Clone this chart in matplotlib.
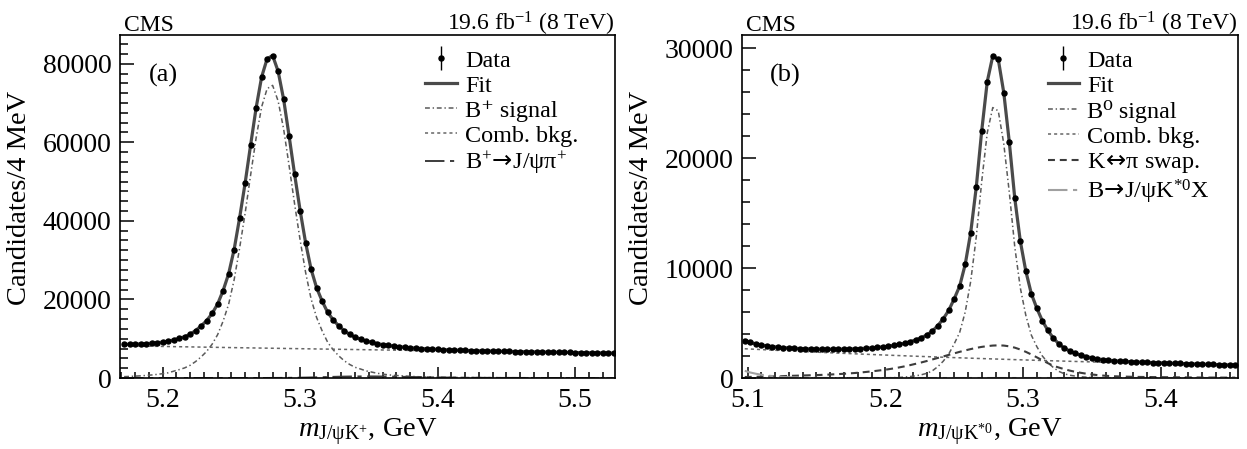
#!/usr/bin/env python3
"""Ajuste de masa invariante B+ -> J/psi K+ (a) y B0 -> J/psi K*0 (b), estilo CMS."""
import matplotlib

matplotlib.use("Agg")
import matplotlib.pyplot as plt
import numpy as np
from matplotlib.ticker import MultipleLocator

plt.rcParams["font.family"] = ["Liberation Serif", "DejaVu Serif", "DejaVu Sans"]
plt.rcParams["mathtext.fontset"] = "custom"
plt.rcParams["mathtext.rm"] = "Liberation Serif"
plt.rcParams["mathtext.it"] = "Liberation Serif:italic"
plt.rcParams["mathtext.sf"] = "DejaVu Sans"  # flechas largas como en ROOT
plt.rcParams["lines.scale_dashes"] = False

# --------------------------------------------------------------------------- #
# Datos, bins de 4 MeV.
# --------------------------------------------------------------------------- #
BIN_W = 0.004
FIRST_A = 5.172
FIRST_B = 5.098
N_BINS = 90

data_a = [
    8550, 8600, 8610, 8700, 8740, 8870, 8950, 9150, 9300, 9700,
    10100, 10480, 11180, 12050, 13250, 14580, 16450, 18800, 22250, 26500,
    32700, 40800, 49600, 59300, 68800, 76600, 81300, 82000, 78100, 70900,
    61500, 51800, 42600, 34400, 27700, 22950, 19600, 16700, 14800, 13300,
    12050, 11100, 10350, 9900, 9400, 9100, 8750, 8500, 8280, 8100,
    7980, 7850, 7720, 7600, 7500, 7430, 7350, 7280, 7200, 7150,
    7100, 7060, 7020, 6980, 6940, 6910, 6880, 6840, 6820, 6790,
    6760, 6730, 6710, 6690, 6660, 6640, 6610, 6590, 6570, 6540,
    6520, 6500, 6480, 6460, 6430, 6410, 6390, 6370, 6350, 6330,
]
sig_a = [
    345, 400, 475, 550, 650, 770, 920, 1100, 1320, 1730,
    2130, 2570, 3230, 4190, 5370, 6760, 8600, 11030,
    14480, 18760, 24980, 33070, 41930, 51670, 61120, 69000, 73650, 74480,
    70500, 63380, 54000, 44260, 35100, 26850, 20100, 15380, 12000,
    9110, 7200, 5660, 4410, 3450, 2720, 2280, 1800, 1510,
    1210, 990, 810, 680, 590, 500, 430, 350, 300, 265, 235, 205, 175, 150,
    140, 130, 120, 110, 100, 95, 90, 85, 80, 75,
    72, 70, 68, 65, 62, 60, 58, 55, 52, 50, 48, 46, 44, 42, 40, 38, 36, 34, 32, 30,
]
comb_a = [
    8200, 8176, 8152, 8128, 8104, 8080, 8057, 8033, 8009, 7985,
    7961, 7938, 7914, 7891, 7868, 7845, 7821, 7798, 7775, 7751,
    7728, 7706, 7683, 7661, 7638, 7616, 7593, 7571, 7548, 7526,
    7503, 7481, 7459, 7437, 7415, 7394, 7372, 7350, 7328, 7306,
    7284, 7263, 7242, 7220, 7199, 7178, 7156, 7135, 7114, 7092,
    7071, 7050, 7030, 7009, 6988, 6968, 6947, 6926, 6905, 6885,
    6864, 6844, 6824, 6804, 6784, 6764, 6744, 6724, 6704, 6684,
    6664, 6645, 6625, 6606, 6586, 6567, 6547, 6528, 6508, 6489,
    6469, 6450, 6431, 6413, 6394, 6375, 6356, 6338, 6319, 6300,
]
pi_a = [0] * 26 + [
    10, 15, 22, 32, 45, 62, 85, 110, 140, 175,
    210, 250, 290, 325, 355, 380, 395, 405, 410, 405,
    395, 380, 360, 340, 315, 290, 265, 240, 215, 190,
    168, 148, 130, 114, 100, 88, 77, 67, 58, 50,
    43, 37, 32, 27, 23,
    20, 17, 14, 12, 10, 8, 7, 6, 5, 4, 3, 3, 2, 2, 1, 1, 1, 0, 0,
]

data_b = [
    3400, 3230, 3120, 3000, 2930, 2860, 2800, 2770, 2730, 2700,
    2680, 2660, 2640, 2630, 2620, 2620, 2620, 2620, 2630, 2640,
    2660, 2680, 2710, 2740, 2790, 2830, 2890, 2960, 3050, 3170,
    3300, 3470, 3660, 3900, 4250, 4750, 5370, 6140, 7190, 8370,
    10330, 13230, 17330, 22500, 26950, 29280, 28990, 25950, 21470, 16330,
    12450, 9720, 7660, 6340, 5200, 4330, 3620, 3100, 2710, 2440,
    2240, 2070, 1940, 1830, 1750, 1680, 1620, 1580, 1540, 1510,
    1480, 1460, 1440, 1420, 1400, 1390, 1370, 1350, 1330, 1320,
    1300, 1280, 1270, 1260, 1240, 1230, 1210, 1200, 1190, 1170,
]
sig_b = [0] * 23 + [
    5, 8, 14, 22, 33, 50, 85, 135, 195, 290,
    420, 640, 1020, 1520, 2170, 3100, 4150, 6000, 8800, 12800,
    17900, 22300, 24600, 24300, 21300, 16900, 11900, 8200, 5700, 3900,
    2850, 2000, 1400, 950, 600, 380, 250, 170, 110, 75,
    50, 32, 20, 12, 7,
] + [0] * 22
comb_b = [
    2660, 2635, 2610, 2585, 2561, 2536, 2512, 2489, 2465, 2442,
    2419, 2396, 2373, 2351, 2329, 2307, 2285, 2263, 2242, 2221,
    2200, 2179, 2158, 2138, 2118, 2098, 2078, 2058, 2039, 2020,
    2000, 1981, 1963, 1944, 1926, 1908, 1890, 1872, 1854, 1837,
    1819, 1802, 1785, 1768, 1752, 1735, 1719, 1703, 1686, 1670,
    1655, 1639, 1624, 1608, 1593, 1578, 1563, 1548, 1534, 1519,
    1505, 1491, 1477, 1463, 1449, 1435, 1422, 1408, 1395, 1382,
    1369, 1356, 1343, 1330, 1318, 1305, 1293, 1281, 1269, 1257,
    1245, 1233, 1222, 1210, 1199, 1187, 1176, 1165, 1154, 1143,
]
swap_b = [
    90, 100, 110, 120, 135, 150, 160, 175, 190, 205,
    220, 235, 250, 265, 285, 305, 330, 355, 385, 420,
    455, 500, 550, 600, 660, 720, 790, 870, 960, 1060,
    1170, 1290, 1410, 1540, 1680, 1820, 1960, 2100, 2240, 2380,
    2510, 2630, 2740, 2830, 2900, 2950, 2970, 2950, 2880, 2760,
    2590, 2380, 2140, 1880, 1610, 1350, 1110, 950, 800, 670,
    560, 470, 390, 320, 265, 220, 185, 160, 140, 125,
    112, 100, 95, 90, 85, 80, 75, 70, 65, 60,
    55, 50, 48, 45, 42, 40, 38, 35, 32, 30,
]
jx_b = [650, 500, 390, 300, 230, 175, 135, 100, 75, 55,
        40, 30, 22, 15, 10, 6, 4, 2] + [0] * 72

# --------------------------------------------------------------------------- #
# Estilos de las componentes (ROOT-like, grises).
# --------------------------------------------------------------------------- #
FIT_STYLE = dict(color="#4a4a4a", lw=2.3)
SIG_STYLE = dict(color="#5a5a5a", lw=1.1, dashes=(3.5, 2, 1, 2))
COMB_STYLE = dict(color="#666666", lw=1.1, dashes=(2.2, 2.2))
PI_STYLE = dict(color="#3c3c3c", lw=1.4, dashes=(14, 4, 3, 4))
SWAP_STYLE = dict(color="#3c3c3c", lw=1.5, dashes=(5, 3.5))
JX_STYLE = dict(color="#a0a0a0", lw=1.5, dashes=(14, 4, 3, 4))


def draw_panel(ax, first, data, parts, xlim, ylim, ymajor, yminor, xlabel, tag):
    mass = first + BIN_W * np.arange(N_BINS)
    fit = np.sum([np.asarray(v, float) for _, v, _ in parts], axis=0)
    handles = []
    for label, vals, style in parts:
        (h,) = ax.plot(mass, vals, label=label, zorder=2, **style)
        handles.append(h)
    (hfit,) = ax.plot(mass, fit, label="Fit", zorder=3, **FIT_STYLE)
    data = np.asarray(data, float)
    hdata = ax.errorbar(mass, data, yerr=np.sqrt(data), fmt="o", ms=3.6, color="k",
                        elinewidth=1.0, capsize=0, zorder=5, label="Data")
    ax.set_xlim(*xlim)
    ax.set_ylim(*ylim)
    ax.xaxis.set_major_locator(MultipleLocator(0.1))
    ax.xaxis.set_minor_locator(MultipleLocator(0.01))
    ax.yaxis.set_major_locator(MultipleLocator(ymajor))
    ax.yaxis.set_minor_locator(MultipleLocator(yminor))
    ax.tick_params(which="both", direction="in", top=False, right=False, width=1.1)
    ax.tick_params(axis="y", which="major", length=10, pad=6, labelsize=20)
    ax.tick_params(axis="y", which="minor", length=5.5)
    ax.tick_params(axis="x", which="major", length=8, pad=7, labelsize=20)
    ax.tick_params(axis="x", which="minor", length=4.5)
    for sp in ax.spines.values():
        sp.set_linewidth(1.2)
    ax.set_ylabel("Candidates/4 MeV", fontsize=20.5)
    ax.yaxis.set_label_coords(-0.178, 0.525)
    ax.set_xlabel(xlabel, fontsize=20.5)
    ax.xaxis.set_label_coords(0.5, -0.112)
    ax.text(0.008, 1.012, "CMS", transform=ax.transAxes, fontsize=17,
            ha="left", va="baseline")
    ax.text(1.0, 1.012, r"19.6 fb$^{-1}$ (8 TeV)", transform=ax.transAxes,
            fontsize=17, ha="right", va="baseline")
    ax.text(0.088, 0.882, tag, transform=ax.transAxes, fontsize=19,
            ha="center", va="center")
    ax.legend([hdata, hfit] + handles, ["Data", "Fit"] + [p[0] for p in parts],
              loc="upper left", bbox_to_anchor=(0.616, 0.957), frameon=False,
              fontsize=17.4, handlelength=1.32, handletextpad=0.33,
              labelspacing=0.13, borderpad=0, borderaxespad=0)


fig = plt.figure(figsize=(12.47, 4.49), dpi=100)
ax_a = fig.add_axes([120 / 1247, 1 - 378 / 449, 495 / 1247, 343 / 449])
ax_b = fig.add_axes([742 / 1247, 1 - 378 / 449, 496 / 1247, 343 / 449])

draw_panel(
    ax_a, FIRST_A, data_a,
    [("B⁺ signal", sig_a, SIG_STYLE),
     ("Comb. bkg.", comb_a, COMB_STYLE),
     (r"B$^{+}\!\mathsf{\rightarrow}\!$J/ψπ$^{+}$", pi_a, PI_STYLE)],
    (5.169, 5.529), (0, 87300), 20000, 2500,
    r"$m_{\mathrm{J/ψK^{+}}}$, GeV", "(a)",
)
draw_panel(
    ax_b, FIRST_B, data_b,
    [("B⁰ signal", sig_b, SIG_STYLE),
     ("Comb. bkg.", comb_b, COMB_STYLE),
     (r"K$\!\mathsf{\leftrightarrow}\!$π swap.", swap_b, SWAP_STYLE),
     (r"B$\!\mathsf{\rightarrow}\!$J/ψK$^{*0}$X", jx_b, JX_STYLE)],
    (5.096, 5.456), (0, 31200), 10000, 2000,
    r"$m_{\mathrm{J/ψK^{*0}}}$, GeV", "(b)",
)

fig.savefig("out.png", dpi=100)
